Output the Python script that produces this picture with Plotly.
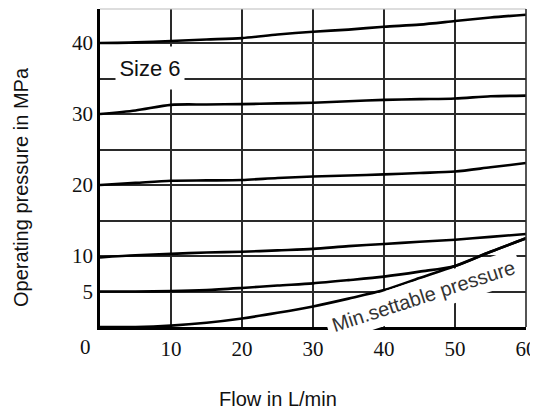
import plotly.graph_objects as go

flow = [0, 5, 10, 15, 20, 25, 30, 35, 40, 45, 50, 55, 60]
p40 = [40.0, 40.1, 40.3, 40.5, 40.7, 41.2, 41.6, 41.9, 42.3, 42.6, 43.1, 43.6, 44.0]
p30 = [30.0, 30.5, 31.3, 31.35, 31.4, 31.5, 31.6, 31.8, 32.0, 32.1, 32.2, 32.5, 32.6]
p20 = [20.0, 20.3, 20.6, 20.65, 20.7, 21.0, 21.2, 21.35, 21.5, 21.7, 21.9, 22.5, 23.1]
p10 = [9.8, 10.1, 10.3, 10.5, 10.6, 10.8, 11.0, 11.4, 11.7, 12.0, 12.3, 12.7, 13.1]
p5 = [5.0, 5.0, 5.05, 5.2, 5.5, 5.85, 6.15, 6.6, 7.1, 7.8, 8.6, 10.6, 12.5]
pmin = [0.0, 0.0, 0.2, 0.6, 1.2, 2.0, 2.9, 4.0, 5.2, 6.9, 8.6, 10.6, 12.5]

x_ticks = [0, 10, 20, 30, 40, 50, 60]
x_labels = ["", "10", "20", "30", "40", "50", "60"]
y_ticks = [5, 10, 15, 20, 25, 30, 35, 40]
y_labels = ["5", "10", "", "20", "", "30", "", "40"]

# page body has an 8px default margin; compensate so the plot area lands at
# x 100..526, y 9..327 in the window
W, H = 530, 404
ML, MR, MT, MB = 92, 12, 1, 85
PW = W - ML - MR
PH = H - MT - MB

fig = go.Figure()
for ys in [p40, p30, p20, p10, p5, pmin]:
    fig.add_trace(go.Scatter(x=flow, y=ys, mode="lines",
                             line=dict(color="black", width=2.6, shape="spline", smoothing=0.8),
                             hoverinfo="skip", showlegend=False))

tick_font = dict(family="Liberation Serif", size=21, color="#111")
fig.update_layout(
    width=W, height=H,
    margin=dict(l=ML, r=MR, t=MT, b=MB),
    paper_bgcolor="white", plot_bgcolor="white",
    xaxis=dict(range=[0, 60], tickvals=x_ticks, ticktext=x_labels,
               showgrid=True, gridcolor="#2a2a2a", gridwidth=1.6,
               showline=True, linecolor="black", linewidth=2.5,
               zeroline=False, ticks="", tickfont=tick_font, ticklabelstandoff=1),
    yaxis=dict(range=[0, 44.8], tickvals=y_ticks, ticktext=y_labels,
               showgrid=True, gridcolor="#2a2a2a", gridwidth=1.6,
               showline=True, linecolor="black", linewidth=2.5,
               zeroline=False, ticks="", tickfont=tick_font, ticklabelstandoff=0),
    shapes=[
        dict(type="line", xref="paper", yref="paper", x0=0, x1=1, y0=1, y1=1,
             line=dict(color="#bbbbbb", width=1)),
        dict(type="line", xref="paper", yref="paper", x0=1, x1=1, y0=0, y1=1,
             line=dict(color="#2a2a2a", width=1.6)),
    ],
    annotations=[
        dict(text="0", x=0, y=0, xref="x", yref="y", xshift=-15, yshift=-20,
             showarrow=False, font=tick_font),
        dict(text="Size 6", x=7.0, y=36.5, xref="x", yref="y", showarrow=False,
             bgcolor="white", width=66, height=40,
             font=dict(family="Liberation Sans", size=22, color="#111")),
        dict(text="Min.settable pressure", x=45.6, y=4.3, xref="x", yref="y",
             showarrow=False, textangle=-18, bgcolor="white", borderpad=5,
             font=dict(family="Liberation Sans", size=20, color="#333")),
        dict(text="Flow in L/min", xref="paper", yref="paper",
             x=(278 - 100) / PW, y=(327 - 399) / PH, xanchor="center", yanchor="middle",
             showarrow=False, font=dict(family="Liberation Sans", size=20, color="#111")),
        dict(text="Operating pressure in MPa", xref="paper", yref="paper",
             x=(21 - 100) / PW, y=(327 - 187) / PH, xanchor="center", yanchor="middle",
             showarrow=False, textangle=-90,
             font=dict(family="Liberation Sans", size=20, color="#111")),
    ],
)

fig.write_html("out.html")
